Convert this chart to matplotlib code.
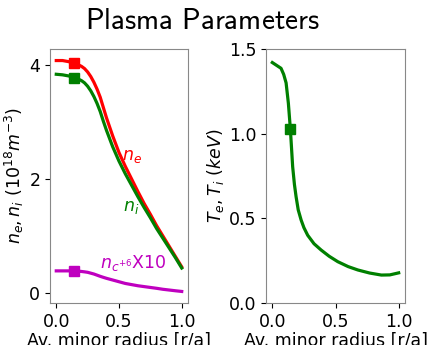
import matplotlib
matplotlib.use("Agg")
import matplotlib.pyplot as plt

r_n = [0.0, 0.05, 0.1, 0.15, 0.2, 0.225, 0.25, 0.275, 0.3, 0.325, 0.35, 0.375, 0.4, 0.45, 0.5, 0.55, 0.6, 0.65, 0.7, 0.75, 0.8, 0.85, 0.9, 0.95, 1.0]
ne = [4.07, 4.07, 4.05, 4.02, 3.97, 3.93, 3.87, 3.79, 3.69, 3.57, 3.43, 3.25, 3.07, 2.75, 2.46, 2.22, 2.00, 1.78, 1.57, 1.38, 1.18, 1.00, 0.82, 0.64, 0.46]
ni = [3.83, 3.82, 3.80, 3.77, 3.72, 3.68, 3.62, 3.54, 3.44, 3.32, 3.18, 3.01, 2.85, 2.56, 2.31, 2.09, 1.89, 1.69, 1.50, 1.32, 1.13, 0.96, 0.79, 0.62, 0.44]
nc = [0.39, 0.39, 0.39, 0.39, 0.38, 0.373, 0.365, 0.35, 0.335, 0.315, 0.295, 0.277, 0.26, 0.23, 0.20, 0.17, 0.15, 0.13, 0.115, 0.10, 0.085, 0.068, 0.055, 0.042, 0.03]

r_T = [0.0, 0.069, 0.09, 0.109, 0.127, 0.143, 0.161, 0.175, 0.188, 0.205, 0.228, 0.25, 0.28, 0.33, 0.386, 0.45, 0.518, 0.6, 0.677, 0.77, 0.863, 0.93, 1.0]
Te = [1.42, 1.386, 1.35, 1.30, 1.18, 1.026, 0.805, 0.70, 0.628, 0.55, 0.49, 0.445, 0.40, 0.35, 0.313, 0.276, 0.244, 0.215, 0.195, 0.177, 0.165, 0.166, 0.178]

r_mark = 0.14
ne_mark, ni_mark, nc_mark, T_mark = 4.02, 3.77, 0.39, 1.026

plt.rcParams['mathtext.fontset'] = 'dejavusans'
FS = 12.5
fig = plt.figure(figsize=(4.28, 3.45), dpi=100)
ax1 = fig.add_axes([50/428, 1-303/345, 138/428, 254/345])
ax2 = fig.add_axes([266/428, 1-303/345, 139/428, 254/345])

lw = 2.3
ax1.plot(r_n, ne, color='red', lw=lw)
ax1.plot(r_n, ni, color='green', lw=lw)
ax1.plot(r_n, nc, color='m', lw=lw)
ax1.plot([r_mark], [ne_mark], 's', color='red', ms=7)
ax1.plot([r_mark], [ni_mark], 's', color='green', ms=7)
ax1.plot([r_mark], [nc_mark], 's', color='m', ms=7)
ax1.text(0.52, 2.33, r'$n_e$', color='red', fontsize=FS)
ax1.text(0.53, 1.43, r'$n_i$', color='green', fontsize=FS)
ax1.text(0.345, 0.44, r'$n_{c^{+6}}$X10', color='m', fontsize=FS)
ax1.set_yticks([0, 2, 4])
ax1.set_xticks([0.0, 0.5, 1.0])
ax1.set_ylabel(r'$n_e, n_i\ (10^{18} m^{-3})$', fontsize=FS, labelpad=2)
ax1.set_xlabel('Av. minor radius [r/a]', fontsize=FS, labelpad=1)

ax2.plot(r_T, Te, color='green', lw=lw)
ax2.plot([r_mark], [T_mark], 's', color='green', ms=7)
ax2.set_ylim(0, 1.5)
ax2.set_yticks([0.0, 0.5, 1.0, 1.5])
ax2.set_xticks([0.0, 0.5, 1.0])
ax2.set_ylabel(r'$T_e, T_i\ (keV)$', fontsize=FS, labelpad=2)
ax2.set_xlabel('Av. minor radius [r/a]', fontsize=FS, labelpad=1)

for ax in (ax1, ax2):
    ax.tick_params(labelsize=FS)
    for s in ax.spines.values():
        s.set_color('#888888')

fig.text(0.472, 0.94, r'$\mathsf{Plasma\ Parameters}$', fontsize=21, ha='center', va='center',
         math_fontfamily='cm')
fig.savefig('out.png', dpi=100)
